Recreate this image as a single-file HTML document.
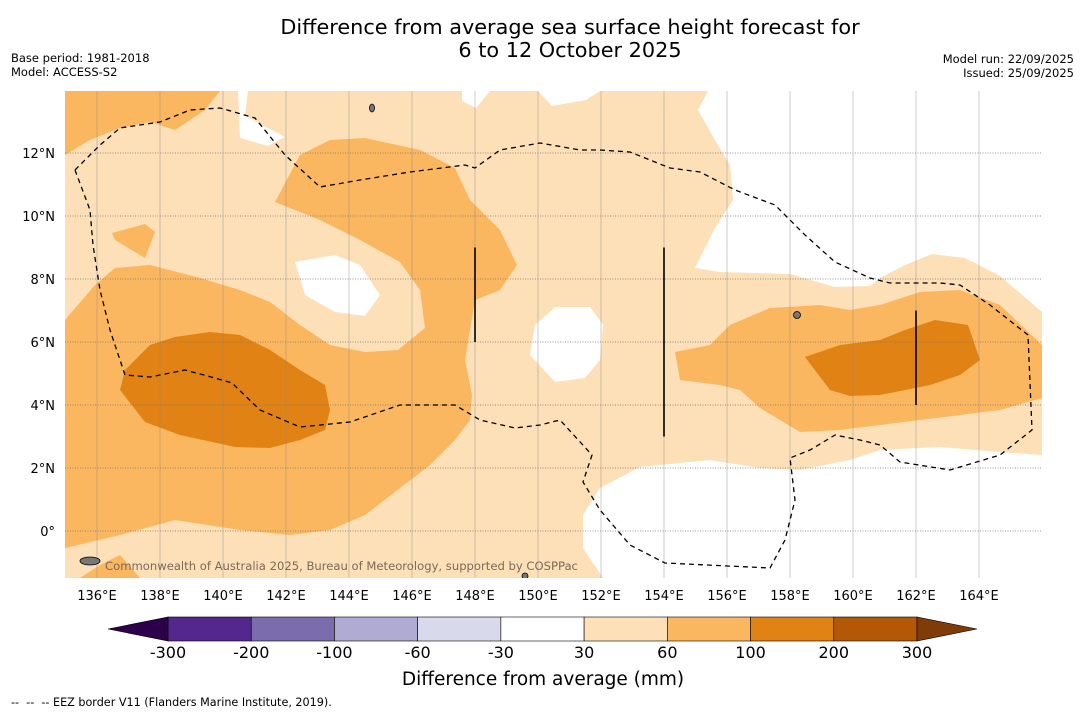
<!DOCTYPE html>
<html><head><meta charset="utf-8"><style>
body{margin:0;background:#fff;font-family:"Liberation Sans","DejaVu Sans",sans-serif;}
svg text{font-family:"DejaVu Sans","Liberation Sans",sans-serif;}
</style></head><body>
<svg id="chart" width="1085" height="713" viewBox="0 0 1085 713" xmlns="http://www.w3.org/2000/svg">
<rect width="1085" height="713" fill="#fff"/>
<text x="570" y="34" font-size="20.8" text-anchor="middle">Difference from average sea surface height forecast for</text>
<text x="570" y="57" font-size="20.8" text-anchor="middle">6 to 12 October 2025</text>
<text x="11" y="62" font-size="11.5">Base period: 1981-2018</text>
<text x="11" y="76" font-size="11.5">Model: ACCESS-S2</text>
<text x="1074" y="63" font-size="11.5" text-anchor="end">Model run: 22/09/2025</text>
<text x="1074" y="77" font-size="11.5" text-anchor="end">Issued: 25/09/2025</text>
<defs><clipPath id="mapclip"><rect x="65" y="91" width="977" height="487"/></clipPath></defs>
<g id="map" clip-path="url(#mapclip)"></g>
<g id="axes"></g>
<g id="cbar"></g>
<text x="543" y="685" font-size="18.5" text-anchor="middle">Difference from average (mm)</text>
<text x="11" y="706" font-size="11.2" xml:space="preserve">--  --  -- EEZ border V11 (Flanders Marine Institute, 2019).</text>
</svg>
<script>
const lonTicks=[136,138,140,142,144,146,148,150,152,154,156,158,160,162,164];
const latTicks=[0,2,4,6,8,10,12];
const cbarLevels=[-300,-200,-100,-60,-30,30,60,100,200,300];
const cbarColors=["#54278f","#7b6cad","#b0abd3","#d9d9ec","#ffffff","#fde0b7","#fbb660","#e08214","#b35806"];
const cbarExtend=["#2d004b","#7f3b08"];
// contour polygons (map units, px estimates of lon/lat positions)
const whiteRegions=[
 [[238,91],[248,91],[245,115],[262,125],[285,137],[268,146],[240,138]],
 [[462,91],[490,91],[476,108],[462,101]],
 [[538,91],[600,91],[586,100],[552,106]],
 [[708,91],[1042,91],[1042,312],[1000,276],[965,258],[932,254],[905,265],[880,278],[870,286],[835,287],[790,274],[720,272],[695,268],[715,228],[733,200],[730,165],[712,135],[698,110]],
 [[295,262],[335,255],[360,265],[380,295],[365,316],[335,312],[305,295]],
 [[555,307],[590,307],[603,325],[600,360],[585,378],[555,382],[530,355],[535,325]],
 [[583,515],[600,488],[640,467],[710,460],[760,468],[800,470],[850,460],[880,450],[940,447],[1000,452],[1042,455],[1042,578],[603,578],[583,548]]
];
const midRegions=[
 [[65,91],[220,91],[205,110],[175,130],[150,122],[120,128],[90,140],[65,155]],
 [[300,155],[330,140],[365,138],[420,150],[455,168],[470,200],[500,230],[517,265],[500,290],[475,300],[465,360],[472,395],[470,420],[455,440],[430,465],[400,488],[365,515],[330,530],[290,535],[240,530],[175,520],[120,535],[65,548],[65,320],[95,285],[115,268],[150,265],[200,278],[240,290],[270,302],[300,325],[330,345],[365,352],[398,350],[425,328],[420,290],[400,262],[360,240],[320,220],[275,202]],
 [[112,233],[145,224],[155,232],[145,258],[115,240]],
 [[80,578],[100,565],[120,555],[140,578]],
 [[675,352],[710,345],[730,325],[770,308],[820,305],[850,310],[880,305],[920,292],[960,290],[1000,305],[1042,345],[1042,398],[1000,410],[960,415],[880,425],[840,430],[800,432],[760,408],[740,390],[720,385],[680,380]]
];
const darkRegions=[
 [[120,390],[125,370],[150,345],[175,337],[210,332],[240,335],[270,350],[300,370],[325,385],[330,410],[325,430],[300,440],[270,448],[235,447],[180,435],[145,422]],
 [[805,357],[840,345],[880,340],[905,330],[935,320],[968,325],[980,360],[960,375],[930,385],[880,395],[850,396],[830,390]]
];
const eezLine=[[75,170],[100,145],[120,128],[160,122],[190,110],[220,108],[255,118],[285,155],[320,187],[360,180],[410,172],[465,165],[475,168],[500,150],[540,143],[580,150],[600,150],[630,152],[670,168],[700,172],[735,190],[775,205],[805,235],[835,262],[870,278],[890,283],[940,283],[960,285],[990,305],[1028,335],[1032,430],[1000,455],[950,470],[900,462],[880,445],[860,440],[835,435],[810,450],[790,458],[795,500],[785,540],[770,568],[665,563],[630,545],[600,510],[583,482],[592,455],[560,420],[540,425],[515,428],[480,420],[455,405],[400,405],[350,422],[300,427],[260,410],[232,383],[215,378],[185,370],[150,377],[125,375],[110,330],[100,290],[93,245],[90,210],[75,170]];
const bars=[[148,6,9],[154,3,9],[162,4,7]];

const NS="http://www.w3.org/2000/svg";
const xOf=lon=>65.5+(lon-135)*31.5;
const yOf=lat=>531-lat*31.5;
function mk(tag,attrs,parent){const e=document.createElementNS(NS,tag);for(const k in attrs)e.setAttribute(k,attrs[k]);parent.appendChild(e);return e;}
const map=document.getElementById('map'),axes=document.getElementById('axes'),cbar=document.getElementById('cbar');
let bg=mk('rect',{x:65,y:91,width:977,height:487,fill:cbarColors[5]},map);


function drawPolys(list,fill,name){list.forEach(p=>{const e=mk('polygon',{points:p.map(q=>q.join(',')).join(' '),fill:fill},map);

});}
drawPolys(whiteRegions,cbarColors[4],'region-neutral');
drawPolys(midRegions,cbarColors[6],'region-60-100');
drawPolys(darkRegions,cbarColors[7],'region-100-200');
lonTicks.forEach(l=>{const e=mk('line',{x1:xOf(l),x2:xOf(l),y1:91,y2:578,stroke:'#888','stroke-width':0.6,'stroke-opacity':0.7},map);

});
latTicks.forEach(l=>{const e=mk('line',{x1:65,x2:1042,y1:yOf(l),y2:yOf(l),stroke:'#777','stroke-width':0.8,'stroke-dasharray':'1,1.5'},map);

});
let eez=mk('polyline',{points:eezLine.map(q=>q.join(',')).join(' '),fill:'none',stroke:'#000','stroke-width':1.3,'stroke-dasharray':'5,4'},map);


bars.forEach(b=>{const e=mk('line',{x1:xOf(b[0]),x2:xOf(b[0]),y1:yOf(b[2]),y2:yOf(b[1]),stroke:'#000','stroke-width':1.6},map);

});
[[90,561,10,4],[372,108,2.5,4],[797,315,3.5,3.5],[525,576,3,3]].forEach(s=>{const e=mk('ellipse',{cx:s[0],cy:s[1],rx:s[2],ry:s[3],fill:'#777',stroke:'#000','stroke-width':0.8},map);

});
let cr=mk('text',{x:105,y:570,'font-size':11.6,fill:'#7a6a5a'},map);cr.textContent='Commonwealth of Australia 2025, Bureau of Meteorology, supported by COSPPac';


lonTicks.forEach(l=>{const t=mk('text',{x:xOf(l),y:600,'font-size':13,'text-anchor':'middle'},axes);t.textContent=l+'°E';

});
latTicks.forEach(l=>{const t=mk('text',{x:55,y:yOf(l)+5,'font-size':13,'text-anchor':'end'},axes);t.textContent=l===0?'0°':l+'°N';

});
// colorbar
const cx0=168,cx1=917,cy=617,ch=24,bw=(cx1-cx0)/cbarColors.length;
cbarColors.forEach((c,i)=>{const r=mk('rect',{x:cx0+i*bw,y:cy,width:bw,height:ch,fill:c,stroke:'#000','stroke-width':0.6},cbar);

});
let tl=mk('polygon',{points:`108,${cy+ch/2} ${cx0},${cy} ${cx0},${cy+ch}`,fill:cbarExtend[0],stroke:'#000','stroke-width':0.6},cbar);


let tr=mk('polygon',{points:`977,${cy+ch/2} ${cx1},${cy} ${cx1},${cy+ch}`,fill:cbarExtend[1],stroke:'#000','stroke-width':0.6},cbar);


cbarLevels.forEach((v,i)=>{const t=mk('text',{x:cx0+i*bw,y:658,'font-size':16,'text-anchor':'middle'},cbar);t.textContent=v;

});
</script>
</body></html>
